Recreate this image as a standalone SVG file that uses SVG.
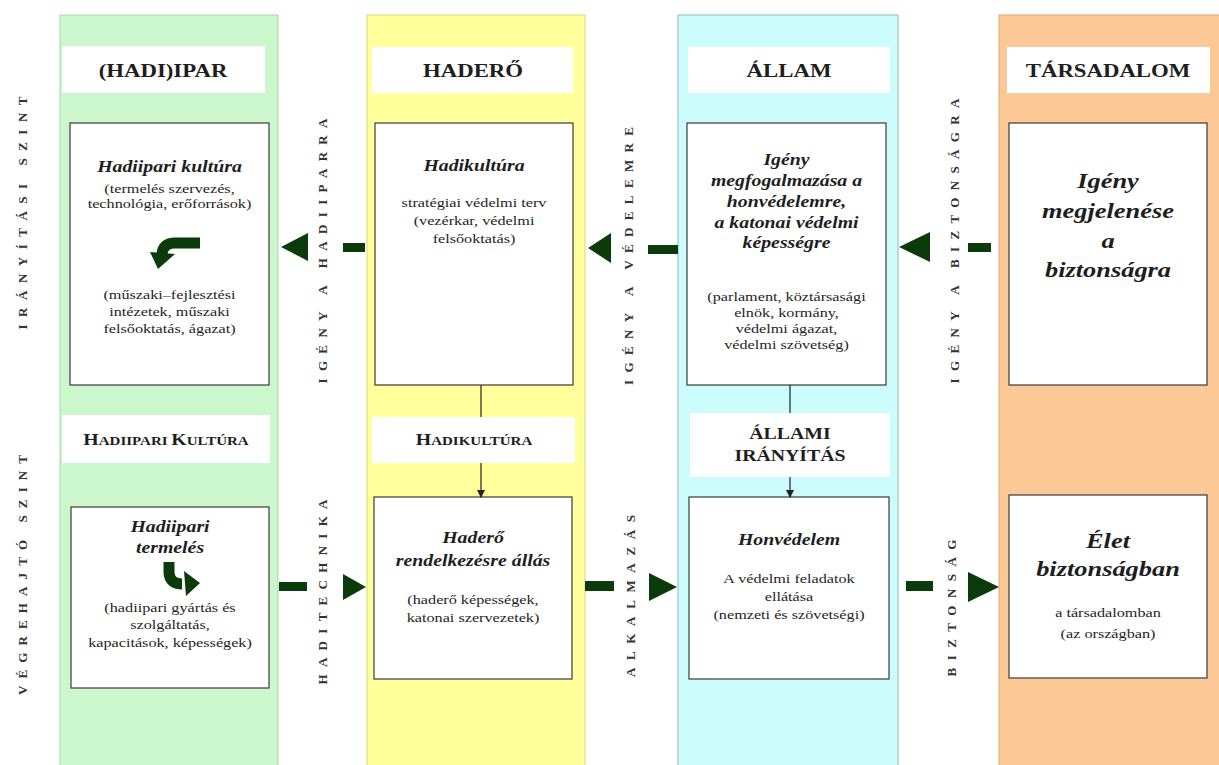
<svg xmlns="http://www.w3.org/2000/svg" width="1219" height="765" viewBox="0 0 1219 765">
<style>
text{font-family:"Liberation Serif","Times New Roman",serif;fill:#1e1e1e}
.hd{font-size:19px;font-weight:bold;text-anchor:middle}
.sc{font-weight:bold;text-anchor:middle}
.ti{font-size:16.5px;font-weight:bold;font-style:italic;text-anchor:middle}
.big{font-size:22px;font-weight:bold;font-style:italic;text-anchor:middle}
.sm{font-size:13.5px;text-anchor:middle}
.vl{font-size:13px;font-weight:bold;text-anchor:middle;fill:#333}
.hbox{fill:#fff}
.box{fill:#fff;stroke:#3a3a3a;stroke-width:1.2}
.arr{fill:#0b3b0b}
.thin{stroke:#222;stroke-width:1.2;fill:none}
</style>
<defs>
<marker id="ah" markerWidth="8" markerHeight="8" refX="7" refY="4" orient="auto" markerUnits="userSpaceOnUse">
<path d="M0,0 L8,4 L0,8 Z" fill="#222"/>
</marker>
</defs>
<rect width="1219" height="765" fill="#fff"/>

<g id="col-hadiipar">
<rect x="60" y="15" width="218" height="755" fill="#ccf7cc" stroke="#a9d6a9" stroke-width="1"/>
<rect class="hbox" x="62" y="46" width="203" height="47"/>
<g transform="translate(163,0) scale(1.2,1)"><text class="hd" x="0" y="77">(HADI)IPAR</text></g>
</g>
<g id="col-hadero">
<rect x="367" y="15" width="218" height="755" fill="#ffff9c" stroke="#d8d87a" stroke-width="1"/>
<rect class="hbox" x="372" y="47" width="201" height="46"/>
<g transform="translate(473,0) scale(1.2,1)"><text class="hd" x="0" y="77">HADERŐ</text></g>
</g>
<g id="col-allam">
<rect x="678" y="15" width="220" height="755" fill="#ccfcfc" stroke="#8fbcbc" stroke-width="1"/>
<rect class="hbox" x="688" y="47" width="202" height="46"/>
<g transform="translate(789,0) scale(1.2,1)"><text class="hd" x="0" y="77">ÁLLAM</text></g>
</g>
<g id="col-tarsadalom">
<rect x="999" y="15" width="222" height="755" fill="#fcc996" stroke="#d9a878" stroke-width="1"/>
<rect class="hbox" x="1007" y="47" width="203" height="46"/>
<g transform="translate(1108,0) scale(1.2,1)"><text class="hd" x="0" y="77">TÁRSADALOM</text></g>
</g>

<g id="lbl-iranyitasi"><text class="vl" transform="translate(27,213) rotate(-90)" textLength="233" lengthAdjust="spacing">IRÁNYÍTÁSI SZINT</text></g>
<g id="lbl-vegrehajto"><text class="vl" transform="translate(27,575) rotate(-90)" textLength="240" lengthAdjust="spacing">VÉGREHAJTÓ SZINT</text></g>

<g id="n-hadiipari-kultura">
<rect class="box" x="70" y="123" width="199" height="262"/>
<g transform="translate(169.5,0) scale(1.2,1)">
<text class="ti" x="0" y="172">Hadiipari kultúra</text>
<text class="sm" x="0" y="193">(termelés szervezés,</text>
<text class="sm" x="0" y="208">technológia, erőforrások)</text>
<text class="sm" x="0" y="299">(műszaki–fejlesztési</text>
<text class="sm" x="0" y="316">intézetek, műszaki</text>
<text class="sm" x="0" y="333">felsőoktatás, ágazat)</text>
</g>
<path d="M200,243 L175,243 Q163,243 162,254" fill="none" stroke="#0b3b0b" stroke-width="11"/>
<polygon class="arr" points="150,252 175,254 158,269"/>
</g>

<g id="n-hadikultura">
<rect class="box" x="375" y="123" width="198" height="262"/>
<g transform="translate(474,0) scale(1.2,1)">
<text class="ti" x="0" y="171">Hadikultúra</text>
<text class="sm" x="0" y="207">stratégiai védelmi terv</text>
<text class="sm" x="0" y="225">(vezérkar, védelmi</text>
<text class="sm" x="0" y="243">felsőoktatás)</text>
</g>
</g>

<g id="n-igeny-megfogalmazasa">
<rect class="box" x="687" y="123" width="199" height="262"/>
<g transform="translate(786.5,0) scale(1.2,1)">
<text class="ti" x="0" y="165">Igény</text>
<text class="ti" x="0" y="186">megfogalmazása a</text>
<text class="ti" x="0" y="207">honvédelemre,</text>
<text class="ti" x="0" y="228">a katonai védelmi</text>
<text class="ti" x="0" y="248">képességre</text>
<text class="sm" x="0" y="301">(parlament, köztársasági</text>
<text class="sm" x="0" y="317">elnök, kormány,</text>
<text class="sm" x="0" y="333">védelmi ágazat,</text>
<text class="sm" x="0" y="349">védelmi szövetség)</text>
</g>
</g>

<g id="n-igeny-megjelenese">
<rect class="box" x="1009" y="123" width="198" height="262"/>
<g transform="translate(1108,0) scale(1.2,1)">
<text class="big" x="0" y="188">Igény</text>
<text class="big" x="0" y="218">megjelenése</text>
<text class="big" x="0" y="248">a</text>
<text class="big" x="0" y="277">biztonságra</text>
</g>
</g>

<g id="h-hadiipari-kultura">
<rect class="hbox" x="62" y="415" width="208" height="48"/>
<g transform="translate(166,0) scale(1.2,1)"><text class="sc" x="0" y="445"><tspan font-size="16.5">H</tspan><tspan font-size="12.5">ADIIPARI </tspan><tspan font-size="16.5">K</tspan><tspan font-size="12.5">ULTÚRA</tspan></text></g>
</g>
<g id="h-hadikultura">
<rect class="hbox" x="372" y="417" width="203" height="46"/>
<g transform="translate(474,0) scale(1.2,1)"><text class="sc" x="0" y="445"><tspan font-size="16.5">H</tspan><tspan font-size="12.5">ADIKULTÚRA</tspan></text></g>
</g>
<g id="h-allami-iranyitas">
<rect class="hbox" x="690" y="413" width="200" height="64"/>
<g transform="translate(790,0) scale(1.2,1)">
<text class="sc" x="0" y="439" font-size="16.5">ÁLLAMI</text>
<text class="sc" x="0" y="461" font-size="16.5">IRÁNYÍTÁS</text>
</g>
</g>

<g id="n-hadiipari-termeles">
<rect class="box" x="71" y="507" width="198" height="181"/>
<g transform="translate(170,0) scale(1.2,1)">
<text class="ti" x="0" y="532">Hadiipari</text>
<text class="ti" x="0" y="553">termelés</text>
<text class="sm" x="0" y="612">(hadiipari gyártás és</text>
<text class="sm" x="0" y="629">szolgáltatás,</text>
<text class="sm" x="0" y="647">kapacitások, képességek)</text>
</g>
<path d="M169,562 L169,573 Q170,584 182,584" fill="none" stroke="#0b3b0b" stroke-width="11"/>
<polygon class="arr" points="184,571 186,596 200,583"/>
</g>

<g id="n-hadero-rendelkezesre">
<rect class="box" x="374" y="497" width="198" height="182"/>
<g transform="translate(473,0) scale(1.2,1)">
<text class="ti" x="0" y="543">Haderő</text>
<text class="ti" x="0" y="566">rendelkezésre állás</text>
<text class="sm" x="0" y="604">(haderő képességek,</text>
<text class="sm" x="0" y="622">katonai szervezetek)</text>
</g>
</g>

<g id="n-honvedelem">
<rect class="box" x="689" y="497" width="200" height="182"/>
<g transform="translate(789,0) scale(1.2,1)">
<text class="ti" x="0" y="545">Honvédelem</text>
<text class="sm" x="0" y="583">A védelmi feladatok</text>
<text class="sm" x="0" y="601">ellátása</text>
<text class="sm" x="0" y="619">(nemzeti és szövetségi)</text>
</g>
</g>

<g id="n-elet-biztonsagban">
<rect class="box" x="1009" y="495" width="198" height="183"/>
<g transform="translate(1108,0) scale(1.2,1)">
<text class="big" x="0" y="548">Élet</text>
<text class="big" x="0" y="576">biztonságban</text>
<text class="sm" x="0" y="617">a társadalomban</text>
<text class="sm" x="0" y="638">(az országban)</text>
</g>
</g>

<g id="connectors">
<line class="thin" x1="481" y1="385" x2="481" y2="417"/>
<line class="thin" x1="481" y1="463" x2="481" y2="497" marker-end="url(#ah)"/>
<line class="thin" x1="790" y1="385" x2="790" y2="413"/>
<line class="thin" x1="790" y1="477" x2="790" y2="497" marker-end="url(#ah)"/>

<rect class="arr" x="343" y="243" width="22" height="9"/>
<polygon class="arr" points="281,247 308,233 308,261"/>
<text class="vl" transform="translate(327,251) rotate(-90)" textLength="265" lengthAdjust="spacing">IGÉNY A HADIIPARRA</text>

<rect class="arr" x="648" y="245" width="30" height="9"/>
<polygon class="arr" points="588,248 611,233 611,263"/>
<text class="vl" transform="translate(633,256) rotate(-90)" textLength="258" lengthAdjust="spacing">IGÉNY A VÉDELEMRE</text>

<rect class="arr" x="968" y="243" width="23" height="9"/>
<polygon class="arr" points="899,247 930,232 930,262"/>
<text class="vl" transform="translate(959,241) rotate(-90)" textLength="285" lengthAdjust="spacing">IGÉNY A BIZTONSÁGRA</text>

<rect class="arr" x="279" y="582" width="28" height="9"/>
<polygon class="arr" points="343,574 343,600 366,587"/>
<text class="vl" transform="translate(327,592) rotate(-90)" textLength="185" lengthAdjust="spacing">HADITECHNIKA</text>

<rect class="arr" x="585" y="581" width="29" height="10"/>
<polygon class="arr" points="649,573 649,601 677,587"/>
<text class="vl" transform="translate(635,596) rotate(-90)" textLength="162" lengthAdjust="spacing">ALKALMAZÁS</text>

<rect class="arr" x="906" y="581" width="27" height="10"/>
<polygon class="arr" points="968,572 968,602 999,587"/>
<text class="vl" transform="translate(956,608) rotate(-90)" textLength="137" lengthAdjust="spacing">BIZTONSÁG</text>
</g>
</svg>
